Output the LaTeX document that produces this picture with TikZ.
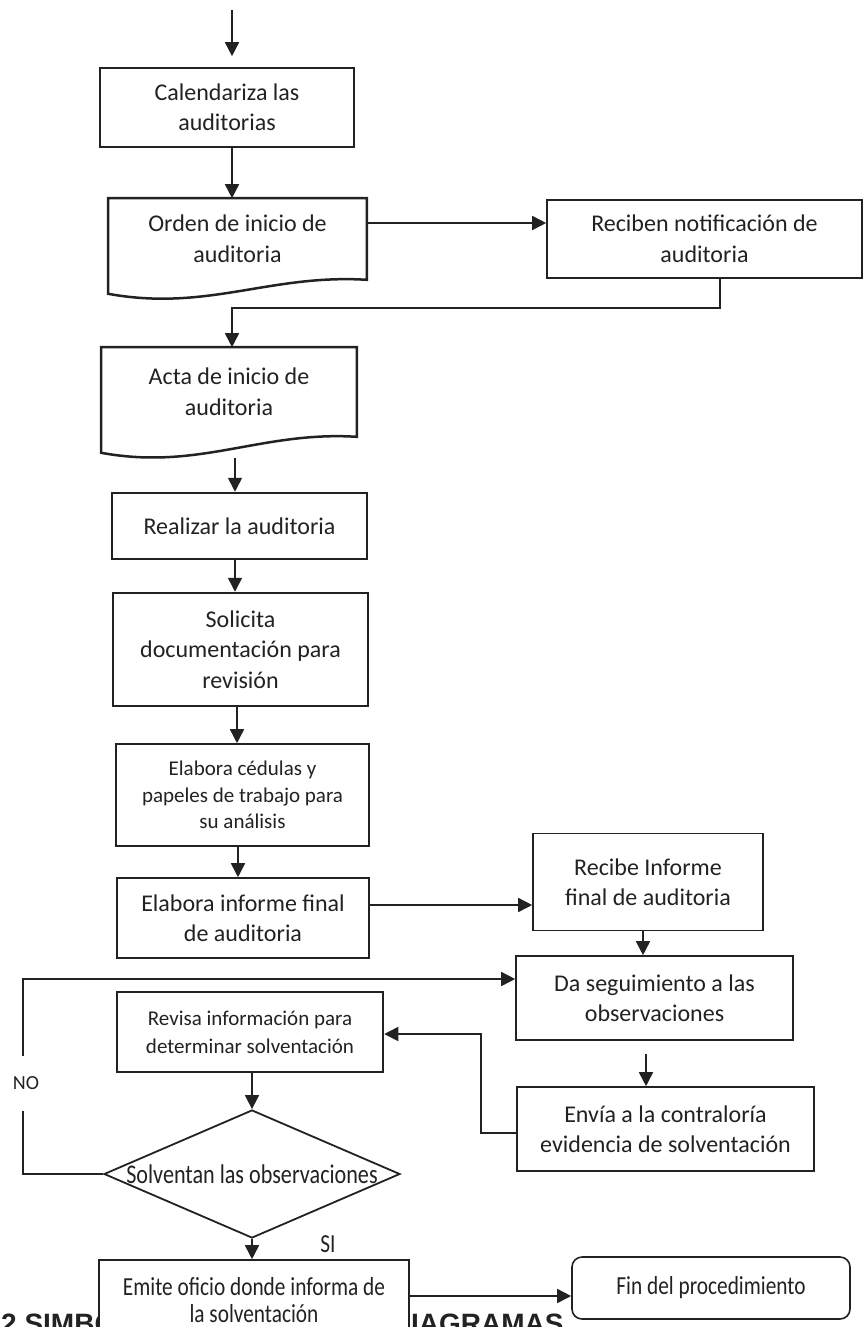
\documentclass[tikz,border=0pt]{standalone}
\usepackage{fontspec}
\setmainfont{Carlito}
\newfontfamily\estrecha[FakeStretch=0.82]{Carlito}
\newfontfamily\titular{Liberation Sans}
\usetikzlibrary{arrows.meta,shapes.geometric}
\definecolor{tinta}{HTML}{222222}

\begin{document}
\begin{tikzpicture}[x=1pt,y=-1pt]

		\tikzset{
			every node/.style={font=\fontsize{24}{30.5}\selectfont, text=tinta},
			caja/.style={draw=tinta, line width=1.6pt, fill=white, inner sep=0pt, align=center},
			cajagruesa/.style={caja, line width=2.5pt},
			decision/.style={draw=tinta, line width=1.8pt, shape=diamond, inner sep=0pt},
			flecha/.style={draw=tinta, line width=1.6pt, -{Triangle[length=14pt,width=14pt]}},
			linea/.style={draw=tinta, line width=1.6pt}
		}
		\useasboundingbox (0,0) rectangle (864,1327);
		\fill[white] (0,0) rectangle (864,1327);

		% encabezado tapado por las cajas
		\node[font=\titular\bfseries\fontsize{28}{28}\selectfont, anchor=base west, inner sep=0pt] (tit1) at (1,1333) {2 SIMBO};
		\node[font=\titular\bfseries\fontsize{28}{28}\selectfont, anchor=base west, inner sep=0pt] (tit2) at (411,1333) {IAGRAMAS};

		\node[caja, minimum width=254, minimum height=79] (cal) at (227,107.5) {Calendariza las\\auditorias};

		\node[caja, draw=none, minimum width=257, minimum height=80] (orden) at (237.5,239) {Orden de inicio de\\auditoria};
		\draw[linea, line width=2.5pt] (orden.north west) -- (orden.north east) -- (orden.south east)
			.. controls +(-97,-6) and +(99,18) .. ([yshift=-14pt]orden.south west) -- cycle;

		\node[caja, minimum width=315, minimum height=78] (rnot) at (704.5,239) {Reciben notificación de\\auditoria};

		\node[caja, draw=none, minimum width=254, minimum height=88] (acta) at (229,392) {Acta de inicio de\\auditoria};
		\draw[linea, line width=2.5pt] (acta.north west) -- (acta.north east) -- (acta.south east)
			.. controls +(-96,-6) and +(98,18) .. ([yshift=-16pt]acta.south west) -- cycle;

		\node[cajagruesa, minimum width=255, minimum height=66] (real) at (239.5,526) {Realizar la auditoria};
		\node[cajagruesa, minimum width=255, minimum height=113] (sol) at (240.5,649.5) {Solicita\\documentación para\\revisión};
		\node[caja, minimum width=253, minimum height=102, font=\fontsize{21}{26.5}\selectfont] (ced) at (242.5,795) {Elabora cédulas y\\papeles de trabajo para\\su análisis};
		\node[caja, minimum width=252, minimum height=80] (inf) at (243,918) {Elabora informe final\\de auditoria};

		\node[caja, minimum width=230, minimum height=97] (rec) at (648,882) {Recibe Informe\\final de auditoria};
		\node[caja, minimum width=277, minimum height=84] (dseg) at (654.5,998) {Da seguimiento a las\\observaciones};
		\node[caja, minimum width=297, minimum height=84] (env) at (665.5,1129) {Envía a la contraloría\\evidencia de solventación};

		\node[cajagruesa, minimum width=266, minimum height=80, font=\fontsize{21}{28}\selectfont] (rev) at (250,1032) {Revisa información para\\determinar solventación};

		\node[decision, minimum width=296, minimum height=128] (solv) at (252,1174) {};
		\node[font=\estrecha\fontsize{27}{30}\selectfont, inner sep=0pt] (solvtxt) at (solv) {Solventan las observaciones};

		\node[caja, minimum width=310, minimum height=80, font=\estrecha\fontsize{26}{27}\selectfont] (emi) at (254,1300) {Emite oficio donde informa de\\la solventación};
		\node[caja, rounded corners=10pt, minimum width=278, minimum height=62, font=\estrecha\fontsize{26}{27}\selectfont] (fin) at (711,1288) {Fin del procedimiento};

		% conectores
		\coordinate (inicio) at (232,10);
		\draw[flecha, shorten >=11pt] (inicio) -- (inicio |- cal.north);
		\draw[flecha] (cal.south -| inicio) -- (orden.north -| inicio);
		\draw[flecha] (orden.east |- 0,223) -- (rnot.west |- 0,223);

		\coordinate (codo1) at (720,308);
		\draw[flecha] (rnot.south -| codo1) -- (codo1) -- (codo1 -| inicio) -- (acta.north -| inicio);

		\draw[flecha, shorten <=21pt] (acta.south -| 235,0) -- (real.north -| 235,0);
		\draw[flecha] (real.south -| 235,0) -- (sol.north -| 235,0);
		\draw[flecha] (sol.south -| 237,0) -- (ced.north -| 237,0);
		\draw[flecha] (ced.south -| 238,0) -- (inf.north -| 238,0);
		\draw[flecha] (inf.east |- 0,905) -- (rec.west |- 0,905);
		\draw[flecha] (rec.south -| 643,0) -- (dseg.north -| 643,0);
		\draw[flecha, shorten <=13pt] (dseg.south -| 646,0) -- (env.north -| 646,0);

		\coordinate (codo2) at (481,1034);
		\draw[flecha] (env.west |- 0,1133) -| (codo2) -- (rev.east |- codo2);

		\draw[flecha] (rev.south -| solv.north) -- (solv.north);

		\coordinate (codo3) at (23,979);
		\draw[flecha] (solv.west) -| (codo3) -- (dseg.west |- codo3);
		\node[fill=white, inner xsep=2pt, minimum height=55, font=\fontsize{20}{20}\selectfont] (no) at (26,1083) {NO};

		\draw[flecha] (solv.south) -- (emi.north -| solv.south);
		\node[font=\estrecha\fontsize{26}{26}\selectfont] (si) at (328,1244) {SI};
		\draw[flecha] (emi.east |- 0,1296) -- (fin.west |- 0,1296);

\end{tikzpicture}
\end{document}
